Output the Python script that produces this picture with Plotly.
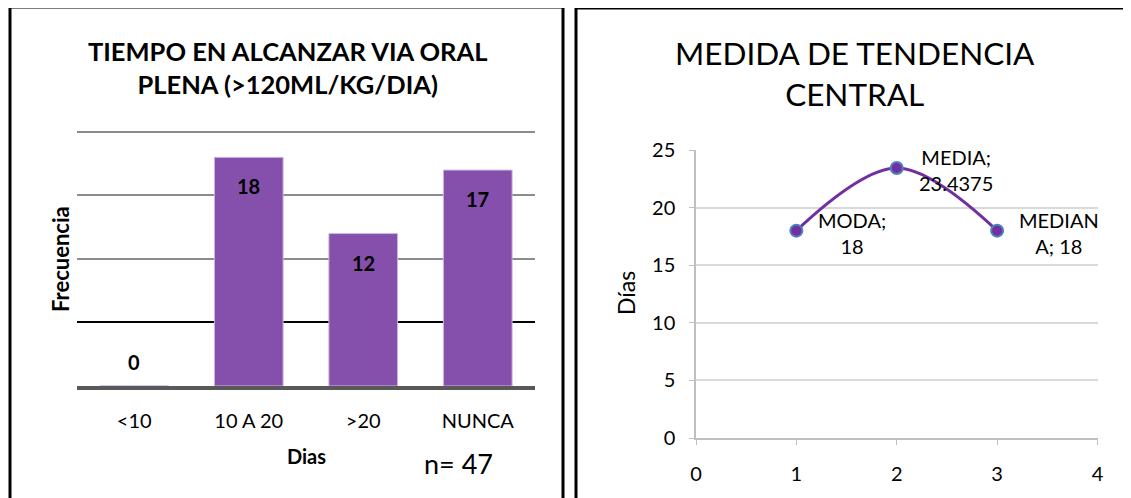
import plotly.graph_objects as go

# left chart data
dias_cats = ["<10", "10 A 20", ">20", "NUNCA"]
frecuencia = [0, 18, 12, 17]

# right chart data
medida_x = [1, 2, 3]
medida_y = [18, 23.4375, 18]
medida_labels = ["MODA;<br>18", "MEDIA;<br>23.4375", "MEDIAN<br>A; 18"]

W, H = 1131, 498
OFF = 8  # page margin of the browser
FONT = "Lato"
PURPLE = "#854FAC"


def px(x):
    return (x - OFF) / W


def py(y):
    return 1 - (y - OFF) / H


fig = go.Figure()

fig.add_trace(go.Bar(
    x=dias_cats, y=frecuencia,
    marker=dict(color=PURPLE, line=dict(color="#CDB8E0", width=1)),
    width=0.6, xaxis="x", yaxis="y", showlegend=False,
))

fig.add_trace(go.Scatter(
    x=medida_x, y=medida_y, mode="lines+markers",
    line=dict(color="#7030A0", width=3, shape="spline", smoothing=1),
    marker=dict(size=12, color="#7030A0", line=dict(color="#4F81BD", width=2)),
    xaxis="x2", yaxis="y2", showlegend=False,
))

annotations = []
# bar labels, inside end (zero bar sits above the baseline)
for c, v in zip(dias_cats, frecuencia):
    annotations.append(dict(
        x=c, y=v, xref="x", yref="y", text=f"<b>{v}</b>", showarrow=False,
        xanchor="center", yanchor="middle",
        yshift=-29 if v > 0 else 24,
        font=dict(family=FONT, size=20, color="black"),
    ))

# point labels on the right chart
for x, y, t in zip(medida_x, medida_y, medida_labels):
    annotations.append(dict(
        x=x, y=y, xref="x2", yref="y2", text=t, showarrow=False,
        xanchor="left", yanchor="middle", xshift=20, yshift=-2, align="center",
        font=dict(family=FONT, size=20, color="black"),
    ))


def label(x, y, text, size, angle=0):
    return dict(x=px(x), y=py(y), xref="paper", yref="paper", showarrow=False,
                xanchor="center", yanchor="middle", text=text, textangle=angle,
                font=dict(family=FONT, size=size, color="black"))


annotations += [
    label(287, 67, "<b>TIEMPO EN ALCANZAR VIA ORAL<br>PLENA (>120ML/KG/DIA)</b>", 25.5),
    label(60, 259, "<b>Frecuencia</b>", 22, -90),
    label(306, 456, "<b>Dias</b>", 20),
    label(458, 463, f"n= {sum(frecuencia)}", 27),
    label(855, 74, "MEDIDA DE TENDENCIA<br>CENTRAL", 31.5),
    label(626, 293, "Días", 23, -90),
]

shapes = [
    dict(type="rect", xref="paper", yref="paper", x0=px(10), x1=px(563),
         y0=-0.2, y1=py(7), line=dict(color="black", width=3)),
    dict(type="rect", xref="paper", yref="paper", x0=px(576), x1=1.2,
         y0=-0.2, y1=py(8), line=dict(color="black", width=3)),
]

fig.update_layout(
    width=W, height=H,
    margin=dict(l=0, r=0, t=0, b=0, autoexpand=False),
    paper_bgcolor="white", plot_bgcolor="white",
    font=dict(family=FONT, color="black"),
    bargap=0.4,
    xaxis=dict(
        domain=[px(77), px(535)], anchor="y", automargin=False,
        showline=True, linecolor="#595959", linewidth=4,
        ticks="outside", ticklen=14, tickcolor="rgba(0,0,0,0)",
        tickfont=dict(family=FONT, size=20, color="black"),
        showgrid=False, fixedrange=True,
    ),
    yaxis=dict(
        domain=[py(386), py(130.7)], anchor="x", automargin=False,
        range=[0, 20.1], tickvals=[10, 15, 20], showticklabels=False,
        showgrid=True, gridcolor="#8C8C8C", gridwidth=1.5,
        minor=dict(tickvals=[5], showgrid=True, gridcolor="black", gridwidth=1.5),
        zeroline=False, showline=False,
    ),
    xaxis2=dict(
        domain=[px(696), px(1097.5)], anchor="y2", automargin=False,
        range=[0, 4], dtick=1, showgrid=False, zeroline=False,
        showline=True, linecolor="#BFBFBF", linewidth=1.5,
        ticks="outside", ticklen=5, tickcolor="#BFBFBF",
        ticklabelstandoff=12,
        tickfont=dict(family=FONT, size=20, color="black"),
    ),
    yaxis2=dict(
        domain=[py(438), py(150)], anchor="x2", automargin=False,
        range=[0, 25], dtick=5, showgrid=True, gridcolor="#D9D9D9", gridwidth=1.5,
        zeroline=False, showline=True, linecolor="#BFBFBF", linewidth=1.5,
        ticks="outside", ticklen=5, tickcolor="#BFBFBF",
        ticklabelstandoff=10,
        tickfont=dict(family=FONT, size=20, color="black"),
    ),
    annotations=annotations,
    shapes=shapes,
)

fig.write_html("out.html")
